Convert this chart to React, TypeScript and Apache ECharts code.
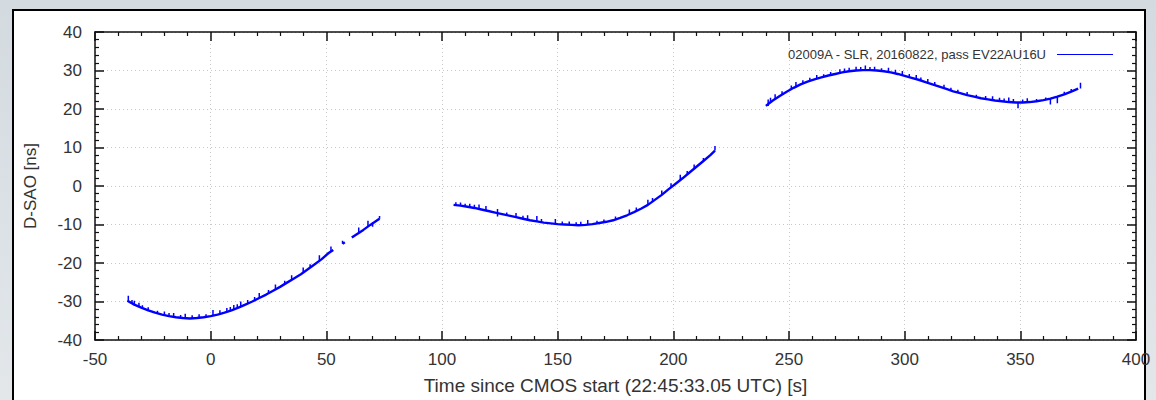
import React, { useEffect, useRef } from "react";
import * as echarts from "echarts";

const seriesName = "02009A - SLR, 20160822, pass EV22AU16U";
const xTitle = "Time since CMOS start (22:45:33.05 UTC) [s]";
const yTitle = "D-SAO [ns]";

// Baseline track of each pass segment: [time s, D-SAO ns]
const segment1: [number, number | null][] = [
  [-36, -29.8], [-33, -30.8], [-30, -31.6], [-27, -32.3], [-24, -32.9], [-21, -33.4],
  [-18, -33.8], [-15, -34.1], [-12, -34.3], [-9, -34.4], [-6, -34.3], [-3, -34.1],
  [0, -33.8], [3, -33.4], [6, -32.9], [9, -32.3], [12, -31.6], [15, -30.8],
  [18, -30.0], [21, -29.1], [24, -28.2], [27, -27.2], [30, -26.2], [33, -25.1],
  [36, -24.0], [39, -22.9], [42, -21.6], [45, -20.3], [48, -19.0], [51, -17.4],
  [53, -16.6], [54, null], [57, -15.0], [58, -14.6], [59, null], [61, -13.4],
  [63, -12.6], [66, -11.4], [69, -10.1], [72, -8.9], [73, -8.5],
];
const segment2: [number, number | null][] = [
  [105, -4.9], [108, -5.1], [111, -5.4], [114, -5.7], [117, -6.1], [120, -6.5],
  [123, -6.9], [126, -7.3], [129, -7.7], [132, -8.1], [135, -8.5], [138, -8.9],
  [141, -9.2], [144, -9.5], [147, -9.7], [150, -9.9], [153, -10.0], [156, -10.1],
  [159, -10.2], [162, -10.1], [165, -9.9], [168, -9.6], [171, -9.3], [174, -8.9],
  [177, -8.3], [180, -7.6], [183, -6.8], [186, -5.9], [189, -4.9], [192, -3.6],
  [195, -2.3], [198, -0.8], [201, 0.6], [204, 2.0], [207, 3.5], [210, 5.0],
  [213, 6.5], [216, 8.0], [218, 9.2],
];
const segment3: [number, number | null][] = [
  [240, 20.8], [243, 22.2], [246, 23.4], [249, 24.5], [252, 25.5], [255, 26.4],
  [258, 27.1], [261, 27.7], [264, 28.2], [267, 28.7], [270, 29.1], [273, 29.5],
  [276, 29.8], [279, 30.0], [282, 30.1], [285, 30.1], [288, 30.0], [291, 29.8],
  [294, 29.5], [297, 29.1], [300, 28.6], [303, 28.1], [306, 27.6], [309, 27.0],
  [312, 26.4], [315, 25.8], [318, 25.2], [321, 24.6], [324, 24.1], [327, 23.6],
  [330, 23.2], [333, 22.8], [336, 22.5], [339, 22.2], [342, 22.0], [345, 21.8],
  [348, 21.7], [351, 21.7], [354, 21.8], [357, 22.0], [360, 22.3], [363, 22.7],
  [366, 23.2], [369, 23.8], [372, 24.5], [375, 25.3],
];

// Outlier spikes: [time s, from ns, to ns]
const spikes: [number, number, number][] = [
  [-35.6, -30.0, -28.5], [-34, -30.5, -29.6], [-33, -31.0, -29.8], [-31, -31.5, -30.3],
  [-29.5, -31.9, -31.0], [-27, -32.3, -31.5], [-23, -33.1, -32.4], [-20, -33.5, -32.6],
  [-18, -33.8, -33.0], [-16, -34.0, -33.0], [-13, -34.3, -33.5], [-11, -34.3, -33.2],
  [-8, -34.4, -33.6], [-5, -34.3, -33.3], [-2, -34.0, -33.3], [1, -33.7, -32.2],
  [4, -33.3, -32.3], [7, -32.7, -31.7], [8.5, -32.5, -31.4], [10, -32.0, -30.9],
  [11.5, -31.8, -30.7], [13, -31.4, -30.0], [16, -30.6, -29.6], [19, -29.7, -28.8],
  [21, -29.1, -27.8], [25, -27.9, -27.0], [28, -26.8, -25.6], [32, -25.5, -24.6],
  [35, -24.3, -23.2], [40, -22.5, -21.2], [43, -21.2, -20.3], [47, -19.4, -18.0],
  [52, -17.0, -15.7], [57, -15.0, -14.2], [64, -12.2, -10.8], [68, -10.5, -9.0],
  [70, -10.6, -9.4], [73, -8.5, -7.8],
  [106, -5.0, -4.2], [108, -5.1, -4.3], [110, -5.3, -4.6], [112, -5.5, -4.6],
  [114, -5.7, -4.9], [116, -6.0, -4.8], [119, -6.4, -5.2], [124, -7.9, -6.0],
  [128, -7.6, -6.9], [132, -8.1, -7.0], [135, -8.5, -7.7], [137, -8.8, -7.6],
  [141, -9.2, -7.8], [143, -9.4, -8.6], [149, -9.8, -8.6], [152, -10.0, -9.2],
  [155, -10.1, -9.2], [158, -10.2, -9.4], [160, -10.2, -9.3], [163, -10.0, -8.8],
  [167, -9.7, -9.0], [170, -9.4, -8.7], [175, -8.7, -7.9], [181, -7.3, -6.1],
  [184, -6.5, -5.6], [189, -4.9, -3.6], [191, -4.0, -3.1], [195, -2.3, -1.2],
  [199, -0.3, 0.7], [203, 1.5, 2.9], [206, 3.0, 3.9], [209, 4.5, 5.6],
  [213, 6.5, 7.3], [218, 9.2, 10.4],
  [241, 20.8, 22.5], [242, 21.6, 22.9], [244, 22.4, 23.8], [247, 23.7, 24.6],
  [251, 25.1, 26.1], [253, 25.6, 27.0], [256, 26.6, 27.5], [259, 27.3, 28.1],
  [262, 27.8, 28.8], [265, 28.3, 29.0], [268, 28.8, 29.6], [272, 29.3, 30.3],
  [274, 29.6, 30.5], [276, 29.8, 30.7], [279, 30.0, 31.0], [281, 30.1, 30.9],
  [283, 30.1, 31.3], [285, 30.1, 30.9], [287, 30.0, 31.0], [290, 29.9, 30.6],
  [293, 29.6, 30.7], [296, 29.2, 30.2], [299, 28.8, 29.9], [302, 28.3, 29.1],
  [305, 27.7, 28.8], [307, 27.4, 28.2], [310, 26.8, 27.8], [313, 26.2, 27.0],
  [317, 25.4, 26.3], [320, 24.8, 25.5], [323, 24.2, 25.0], [327, 23.6, 24.4],
  [331, 23.0, 23.7], [335, 22.6, 23.4], [338, 22.3, 23.3], [341, 22.0, 22.9],
  [343, 21.9, 22.7], [345, 21.8, 23.0], [347, 21.7, 22.6], [349, 20.2, 21.7],
  [351, 21.7, 22.5], [353, 21.7, 22.8], [357, 22.0, 22.6], [361, 22.4, 23.0],
  [363, 21.2, 22.7], [366, 21.5, 23.2], [369, 23.8, 24.5], [372, 24.5, 25.2],
  [376, 25.3, 26.8],
];

const xMin = -50, xMax = 400, xStep = 50;
const yMin = -40, yMax = 40, yStep = 10;

export default function App() {
  const ref = useRef<HTMLDivElement>(null);
  useEffect(() => {
    if (!ref.current) return;
    const chart = echarts.init(ref.current, undefined, { renderer: "svg" });
    const mainData: any[] = [
      ...segment1, [90, null], ...segment2, [230, null], ...segment3,
    ];
    const spikeData: any[] = [];
    spikes.forEach(([x, a, b]) => {
      spikeData.push([x, a], [x, b], [x, null]);
    });
    const font = "'Liberation Sans', Arial, Helvetica, sans-serif";
    const axisCommon = {
      type: "value" as const,
      axisLine: { show: true, onZero: false, lineStyle: { color: "#111", width: 1.5 } },
      axisTick: { show: true, inside: true, length: 9, lineStyle: { color: "#111", width: 1.5 } },
      minorTick: { show: true, splitNumber: 5, length: 4, lineStyle: { color: "#111", width: 1.2 } },
    };
    chart.setOption({
      animation: false,
      textStyle: { fontFamily: font },
      grid: { left: 95, right: 20, top: 32, bottom: 58, show: false },
      legend: {
        data: [seriesName],
        right: 43,
        top: 48,
        align: "right",
        icon: "rect",
        itemWidth: 56,
        itemHeight: 1.2,
        padding: 0,
        textStyle: { fontSize: 13, color: "#333", fontFamily: font, padding: [0, 6, 0, 0] },
      },
      xAxis: [
        {
          ...axisCommon,
          position: "bottom",
          min: xMin, max: xMax, interval: xStep,
          axisLabel: { fontSize: 17, color: "#333", margin: 11, fontFamily: font },
          splitLine: { show: true, lineStyle: { color: "#c8c8c8", type: [1, 3], width: 1 } },
          name: xTitle,
          nameLocation: "middle",
          nameGap: 36,
          nameTextStyle: { fontSize: 19, color: "#333", fontFamily: font },
        },
        {
          ...axisCommon,
          position: "top",
          min: xMin, max: xMax, interval: xStep,
          axisLabel: { show: false },
          splitLine: { show: false },
        },
      ],
      yAxis: [
        {
          ...axisCommon,
          position: "left",
          min: yMin, max: yMax, interval: yStep,
          axisLabel: { fontSize: 17, color: "#333", margin: 13, fontFamily: font },
          splitLine: { show: true, lineStyle: { color: "#c8c8c8", type: [1, 3], width: 1 } },
          name: yTitle,
          nameLocation: "middle",
          nameGap: 56,
          nameTextStyle: { fontSize: 17, color: "#333", fontFamily: font },
        },
        {
          ...axisCommon,
          position: "right",
          min: yMin, max: yMax, interval: yStep,
          axisLabel: { show: false },
          splitLine: { show: false },
        },
      ],
      series: [
        {
          name: seriesName,
          type: "line",
          data: mainData,
          showSymbol: false,
          connectNulls: false,
          lineStyle: { color: "#0000ff", width: 2.4 },
          itemStyle: { color: "#0000ff" },
          xAxisIndex: 0,
          yAxisIndex: 0,
        },
        {
          name: "spikes",
          type: "line",
          data: spikeData,
          showSymbol: false,
          connectNulls: false,
          lineStyle: { color: "#0000ff", width: 1.5 },
          itemStyle: { color: "#0000ff" },
          xAxisIndex: 0,
          yAxisIndex: 0,
        },
      ],
    });
    return () => chart.dispose();
  }, []);

  return (
    <div
      style={{
        position: "fixed", left: 0, top: 0, width: 1156, height: 400,
        background: "linear-gradient(#d3dae0, #e3e7ea)", overflow: "hidden",
      }}
    >
      <div
        style={{
          position: "absolute", left: 12, top: 9, width: 1134, height: 400,
          borderLeft: "2px solid #000", borderTop: "2px solid #000", borderRight: "2px solid #000",
          background: "#fff", boxSizing: "border-box",
        }}
      />
      <div ref={ref} style={{ position: "absolute", left: 0, top: 0, width: 1156, height: 400 }} />
    </div>
  );
}
